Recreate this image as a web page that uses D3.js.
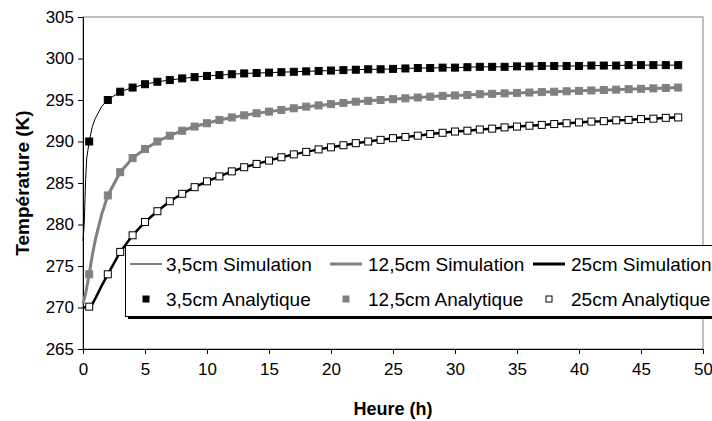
<!DOCTYPE html>
<html>
<head>
<meta charset="utf-8">
<script src="https://cdn.jsdelivr.net/npm/d3@7"></script>
<style>
  html, body { margin: 0; padding: 0; background: #fff; }
  svg { display: block; font-family: "Liberation Sans", Arial, sans-serif; }
</style>
</head>
<body>
<svg id="chart" width="712" height="421"></svg>
<script>
// ---------- DATA ----------
const xTicks = [0, 5, 10, 15, 20, 25, 30, 35, 40, 45, 50];
const yTicks = [265, 270, 275, 280, 285, 290, 295, 300, 305];

const analyticHours = [0.5, 2, 3, 4, 5, 6, 7, 8, 9, 10, 11, 12, 13, 14, 15, 16, 17, 18, 19, 20,
  21, 22, 23, 24, 25, 26, 27, 28, 29, 30, 31, 32, 33, 34, 35, 36, 37, 38, 39, 40,
  41, 42, 43, 44, 45, 46, 47, 48];

const ana35 = [290.0, 295.0, 296.0, 296.5, 296.9, 297.2, 297.4, 297.6, 297.75, 297.9, 298.0, 298.1,
  298.2, 298.25, 298.3, 298.35, 298.4, 298.45, 298.5, 298.55, 298.6, 298.65, 298.7, 298.7,
  298.75, 298.8, 298.85, 298.85, 298.9, 298.9, 298.95, 299.0, 299.0, 299.0, 299.05, 299.05,
  299.1, 299.1, 299.1, 299.1, 299.15, 299.15, 299.15, 299.2, 299.2, 299.2, 299.2, 299.2];

const ana125 = [274.0, 283.5, 286.3, 288.0, 289.1, 290.0, 290.7, 291.3, 291.8, 292.2, 292.6, 292.9,
  293.15, 293.4, 293.6, 293.8, 294.0, 294.2, 294.35, 294.5, 294.65, 294.8, 294.9, 295.0,
  295.1, 295.2, 295.3, 295.4, 295.5, 295.55, 295.6, 295.7, 295.75, 295.8, 295.85, 295.9,
  295.95, 296.0, 296.05, 296.1, 296.15, 296.2, 296.25, 296.3, 296.35, 296.4, 296.45, 296.5];

const ana25 = [270.1, 274.0, 276.7, 278.7, 280.3, 281.6, 282.8, 283.7, 284.5, 285.2, 285.8, 286.4,
  286.9, 287.3, 287.7, 288.1, 288.45, 288.75, 289.05, 289.3, 289.55, 289.8, 290.0, 290.2,
  290.4, 290.55, 290.7, 290.9, 291.05, 291.2, 291.3, 291.45, 291.55, 291.7, 291.8, 291.9,
  292.0, 292.1, 292.2, 292.3, 292.4, 292.45, 292.55, 292.6, 292.7, 292.75, 292.85, 292.9];

// simulation curves: early hours read separately, later they run through the analytic markers
const simEarlyHours = [0, 0.1, 0.2, 0.3, 0.5, 0.75, 1, 1.5];
const sim35Early  = [278.0, 280.0, 285.0, 288.0, 290.0, 291.8, 292.8, 294.2];
const sim125Early = [270.5, 271.0, 271.6, 272.4, 274.0, 276.3, 278.2, 281.2];
const sim25Early  = [270.0, 270.0, 270.05, 270.1, 270.1, 270.4, 271.1, 272.6];

const legendLabels = ["3,5cm Simulation", "12,5cm Simulation", "25cm Simulation",
  "3,5cm Analytique", "12,5cm Analytique", "25cm Analytique"];

// ---------- BUILD ----------
const simHours = simEarlyHours.concat(analyticHours.slice(1));
const sim35 = sim35Early.concat(ana35.slice(1));
const sim125 = sim125Early.concat(ana125.slice(1));
const sim25 = sim25Early.concat(ana25.slice(1));

const svg = d3.select("#chart");
const L = 83, R = 703, T = 17, B = 349;
const x = d3.scaleLinear().domain([0, 50]).range([L, R]);
const y = d3.scaleLinear().domain([265, 305]).range([B, T]);

svg.append("rect").attr("width", 712).attr("height", 421).attr("fill", "#fff");

// plot area border
svg.append("rect").attr("x", L).attr("y", T).attr("width", R - L).attr("height", B - T)
  .attr("fill", "none").attr("stroke", "#808080").attr("stroke-width", 1);

// axes
const xAxis = svg.append("g").attr("transform", `translate(0,${B})`)
  .call(d3.axisBottom(x).tickValues(xTicks).tickSize(5).tickPadding(9).tickFormat(d3.format("d")));
const yAxis = svg.append("g").attr("transform", `translate(${L},0)`)
  .call(d3.axisLeft(y).tickValues(yTicks).tickSize(5).tickPadding(4).tickFormat(d3.format("d")));
[xAxis, yAxis].forEach(g => {
  g.selectAll("path").attr("stroke", "#000").attr("stroke-width", 1);
  g.selectAll("line").attr("stroke", "#000");
  g.selectAll("text").attr("font-size", 17).attr("fill", "#000")
    .attr("font-family", "'Liberation Sans', Arial, sans-serif");
});

// axis titles
svg.append("text").attr("x", (L + R) / 2).attr("y", 415).attr("text-anchor", "middle")
  .attr("font-size", 18).attr("font-weight", "bold").text("Heure (h)");
svg.append("text").attr("transform", `translate(29,${(T + B) / 2}) rotate(-90)`)
  .attr("text-anchor", "middle").attr("font-size", 19).attr("font-weight", "bold")
  .text("Température (K)");

// lines
const line = d3.line().x(d => x(d[0])).y(d => y(d[1]));
const zip = (a, b) => a.map((v, i) => [v, b[i]]);
const plot = svg.append("g");
plot.append("path").datum(zip(simHours, sim35)).attr("d", line)
  .attr("fill", "none").attr("stroke", "#000").attr("stroke-width", 1);
plot.append("path").datum(zip(simHours, sim125)).attr("d", line)
  .attr("fill", "none").attr("stroke", "#808080").attr("stroke-width", 3);
plot.append("path").datum(zip(simHours, sim25)).attr("d", line)
  .attr("fill", "none").attr("stroke", "#000").attr("stroke-width", 2.5);

// markers
function squares(vals, fill, stroke, s) {
  plot.append("g").selectAll("rect").data(zip(analyticHours, vals)).join("rect")
    .attr("x", d => x(d[0]) - s / 2).attr("y", d => y(d[1]) - s / 2)
    .attr("width", s).attr("height", s)
    .attr("fill", fill).attr("stroke", stroke).attr("stroke-width", 1);
}
squares(ana35, "#000", "#000", 7);
squares(ana125, "#808080", "#808080", 7);
squares(ana25, "#fff", "#000", 7);

// legend
const lg = svg.append("g");
lg.append("rect").attr("x", 128).attr("y", 248).attr("width", 600).attr("height", 71).attr("fill", "#000");
lg.append("rect").attr("x", 125.5).attr("y", 245.5).attr("width", 600).attr("height", 71)
  .attr("fill", "#fff").attr("stroke", "#000").attr("stroke-width", 1);

const colX = [130, 330, 533];
const textX = [166, 368, 571];
const row1 = 264, row2 = 299;
const lineStyles = [["#000", 1], ["#808080", 3], ["#000", 3]];
lineStyles.forEach((st, i) => {
  lg.append("line").attr("x1", colX[i]).attr("x2", colX[i] + 32).attr("y1", row1).attr("y2", row1)
    .attr("stroke", st[0]).attr("stroke-width", st[1]);
  lg.append("text").attr("x", textX[i]).attr("y", row1).attr("dy", "0.35em")
    .attr("font-size", 19).text(legendLabels[i]);
});
const mk = [["#000", "#000"], ["#808080", "#808080"], ["#fff", "#000"]];
mk.forEach((st, i) => {
  const cx = colX[i] + 16;
  lg.append("rect").attr("x", cx - 3).attr("y", row2 - 3).attr("width", 6).attr("height", 6)
    .attr("fill", st[0]).attr("stroke", st[1]).attr("stroke-width", 1);
  lg.append("text").attr("x", textX[i]).attr("y", row2).attr("dy", "0.35em")
    .attr("font-size", 19).text(legendLabels[i + 3]);
});
</script>
</body>
</html>
